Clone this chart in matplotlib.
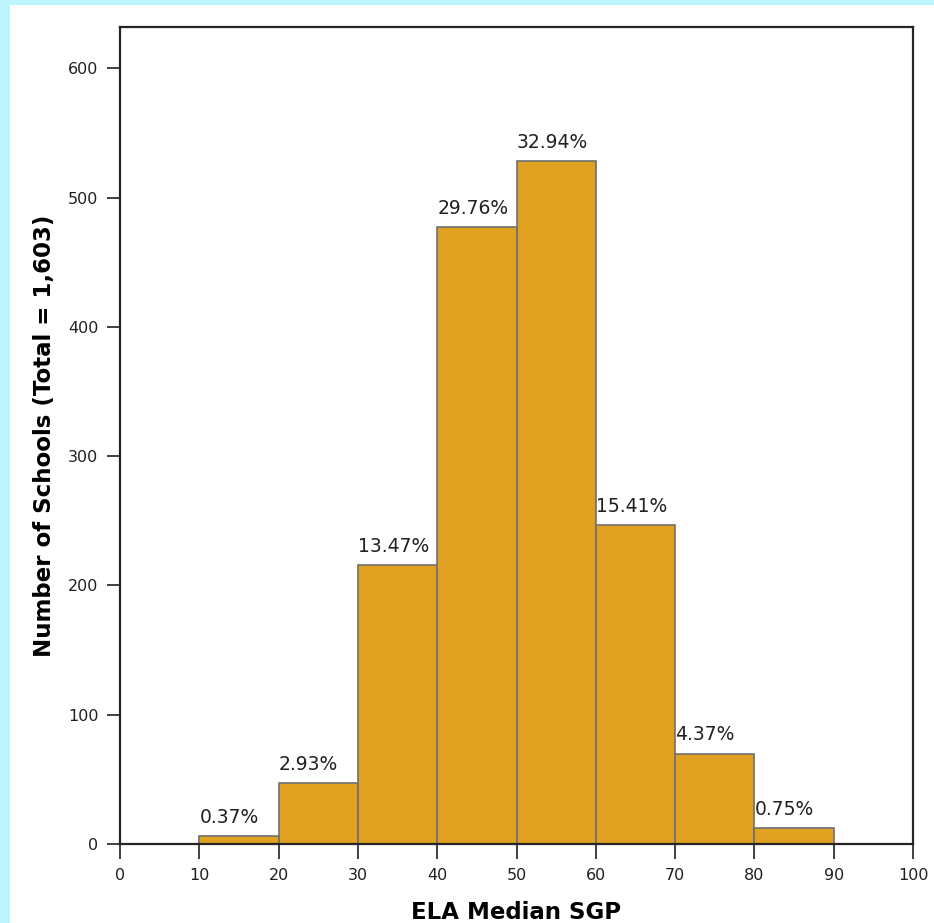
import matplotlib
matplotlib.use("Agg")
import matplotlib.pyplot as plt
from matplotlib.patches import Rectangle

# histogram bins (ELA median SGP) and school counts
bin_edges = [10, 20, 30, 40, 50, 60, 70, 80, 90]
counts = [6, 47, 216, 477, 528, 247, 70, 12]
pct_labels = ["0.37%", "2.93%", "13.47%", "29.76%", "32.94%", "15.41%", "4.37%", "0.75%"]
x_ticks = [0, 10, 20, 30, 40, 50, 60, 70, 80, 90, 100]
y_ticks = [0, 100, 200, 300, 400, 500, 600]

plt.rcParams["font.family"] = ["DejaVu Sans"]

fig = plt.figure(figsize=(9.34, 9.23), dpi=100, facecolor="#BDF5FF")
fig.patches.append(Rectangle((10 / 934, 0), 1, 1 - 5 / 923, transform=fig.transFigure,
                             facecolor="white", edgecolor="none", zorder=-1))
ax = fig.add_axes([120 / 934, 79 / 923, 793 / 934, 817 / 923])

lefts = bin_edges[:-1]
widths = [b - a for a, b in zip(bin_edges[:-1], bin_edges[1:])]
ax.bar(lefts, counts, width=widths, align="edge", color="#E0A020",
       edgecolor="#707070", linewidth=1.2, zorder=2)

for x, h, lab in zip(lefts, counts, pct_labels):
  ax.annotate(lab, (x, h), xytext=(0, 6.5), textcoords="offset points",
              ha="left", va="bottom", fontsize=13.5, color="#202020")

ax.set_xlim(0, 100)
ax.set_ylim(0, 632)
ax.set_xticks(x_ticks)
ax.set_yticks(y_ticks)
ax.tick_params(direction="out", width=1.2, labelsize=11.5, color="#202020",
               labelcolor="#202020", pad=6)
ax.tick_params(axis="x", length=11)
ax.tick_params(axis="y", length=9.5)
for s in ax.spines.values():
  s.set_linewidth(1.6)
  s.set_color("#252525")

ax.set_xlabel("ELA Median SGP", fontsize=16.5, fontweight="bold")
ax.xaxis.set_label_coords(0.5, -0.0698)
ax.set_ylabel("Number of Schools (Total = 1,603)", fontsize=16.5, fontweight="bold", va="center")
ax.yaxis.set_label_coords(-0.0946, 0.5)

fig.savefig("out.png", dpi=100, facecolor=fig.get_facecolor())
